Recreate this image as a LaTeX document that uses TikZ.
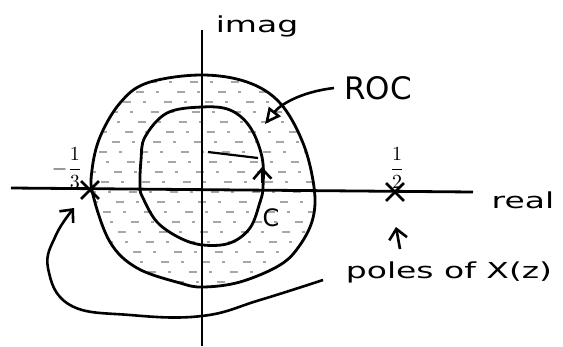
\documentclass[tikz,border=0pt]{standalone}
\usepackage{fontspec}
\setmainfont{DejaVu Sans}
\usetikzlibrary{arrows.meta,shapes.misc}
\newcommand{\largo}[1]{\scalebox{1.5}[1]{#1}}
\begin{document}
\begin{tikzpicture}[x=1pt,y=-1pt]
\tikzset{
    >={Straight Barb[length=10pt,width=18pt]},
    eixo/.style={-, line width=2.8pt},
    curva/.style={line width=2.8pt},
    seta/.style={->, line width=2.6pt},
    setaROC/.style={-{Triangle[open,length=16pt,width=15pt]}, line width=2.6pt},
    hachura/.style={gray!70, line width=1.1pt, dash pattern=on 8pt off 12pt on 3pt off 18pt},
    polo/.style={cross out, draw=black, line width=2.8pt, minimum size=15pt, inner sep=0pt},
    rotulo/.style={inner sep=0pt}
}
\useasboundingbox (0,0) rectangle (563,346);

% Região de convergência (hachura)
\begin{scope}
\clip plot[smooth cycle, tension=0.6] coordinates {(200,75) (247,82) (280,103) (303,143) (314,187) (313,218) (300,245) (280,265) (240,282) (203,287) (180,283) (137,268) (110,242) (93,195) (92,170) (100,137) (120,103) (147,83)};
\foreach \yy [count=\i, evaluate=\i as \fase using {mod(\i*13,41)}] in {82,92,...,287}
    \draw[hachura, dash phase=\fase pt] (80,\yy) -- (330,\yy);
\end{scope}
\draw[line width=2.2pt] (208,152) -- (258,158);

% Eixos
\draw[eixo] (11,188) -- (473,192);
\draw[eixo] (202,30) -- (202,346);

% Curvas
\draw[curva] plot[smooth cycle, tension=0.6] coordinates {(200,75) (247,82) (280,103) (303,143) (314,187) (313,218) (300,245) (280,265) (240,282) (203,287) (180,283) (137,268) (110,242) (93,195) (92,170) (100,137) (120,103) (147,83)};
\draw[curva] plot[smooth cycle, tension=0.6] coordinates {(202,107) (230,110) (250,127) (262,157) (263,187) (260,202) (250,228) (230,243) (203,245) (180,238) (157,222) (143,198) (140,187) (141,160) (145,137) (167,113)};
\draw[seta] (262.5,183) -- (262,167);

% Polos
\node[polo] (p1) at (90,190) {};
\node[polo] (p2) at (395,192) {};
\node[rotulo] (menosTerco) at (67,168) {\scalebox{2}{$\displaystyle -\frac{1}{3}$}};
\node[rotulo] (meio) at (397,168) {\scalebox{2}{$\displaystyle \frac{1}{2}$}};

% Rótulos
\node[rotulo, font=\fontsize{22}{22}\selectfont] (imag) at (257,26) {\largo{imag}};
\node[rotulo, font=\fontsize{22}{22}\selectfont] (real) at (523,200) {\largo{real}};
\node[rotulo, font=\fontsize{31}{31}\selectfont] (roc) at (378,88) {ROC};
\node[rotulo, font=\fontsize{24}{24}\selectfont] (c) at (271,218) {C};
\node[rotulo, font=\fontsize{22}{22}\selectfont] (polos) at (449,272) {\largo{poles of X(z)}};

% Setas
\coordinate (alvoROC) at (265,124);
\draw[setaROC] ([xshift=-10pt]roc.west) .. controls (300,92) and (280,105) .. (alvoROC);
\coordinate (baseP2) at (400,249);
\coordinate (pontaP2) at (396,227);
\draw[seta] (baseP2) -- (pontaP2);
\coordinate (baseP1) at (323,280);
\draw[seta] plot[smooth, tension=0.7] coordinates {(baseP1) (260,300) (202,316) (130,315) (70,305) (48,268) (56,235) (74,208)};
\end{tikzpicture}
\end{document}
